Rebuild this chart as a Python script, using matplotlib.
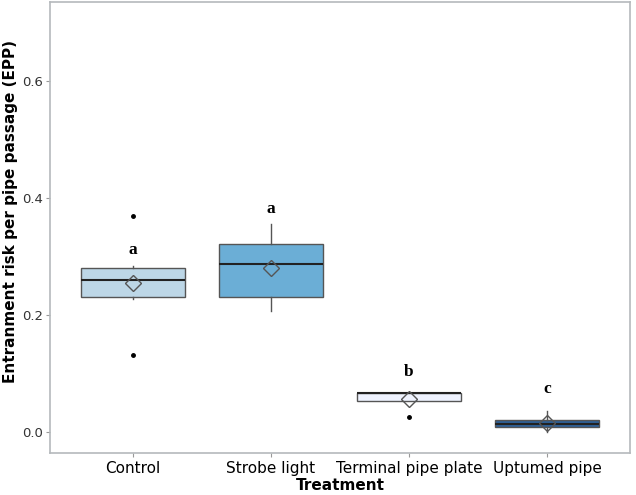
import numpy as np
import matplotlib.pyplot as plt

treatments = ['Control', 'Strobe light', 'Terminal pipe plate', 'Uptumed pipe']
q1 = [0.230, 0.231, 0.052, 0.008]
median = [0.260, 0.287, 0.066, 0.014]
q3 = [0.280, 0.321, 0.066, 0.0205]
wlo = [0.227, 0.206, 0.052, 0.000]
whi = [0.284, 0.356, 0.066, 0.036]
means = [0.254, 0.280, 0.056, 0.016]
outliers = [[0.369, 0.131], [], [0.026], []]
letters = ['a', 'a', 'b', 'c']
letter_y = [0.311, 0.381, 0.103, 0.073]
colors = ['#bdd7e7', '#6baed6', '#eff3ff', '#2e5f96']

fig = plt.figure(figsize=(6.36, 4.95), dpi=100)
ax = fig.add_axes([0.0786, 0.085, 0.912, 0.911])

stats = []
for i in range(len(treatments)):
    stats.append({'med': median[i], 'q1': q1[i], 'q3': q3[i],
                  'whislo': wlo[i], 'whishi': whi[i], 'fliers': outliers[i]})

pos = np.arange(1, len(treatments) + 1)
bp = ax.bxp(stats, positions=pos, widths=0.75, patch_artist=True, showcaps=False,
            boxprops=dict(edgecolor='#555555', linewidth=1.0),
            medianprops=dict(color='#222222', linewidth=1.5),
            whiskerprops=dict(color='#555555', linewidth=1.0),
            flierprops=dict(marker='o', markerfacecolor='black', markeredgecolor='black',
                            markersize=2.5, linestyle='none'))
for patch, c in zip(bp['boxes'], colors):
    patch.set_facecolor(c)

ax.plot(pos, means, 'D', markerfacecolor='none', markeredgecolor='#555555',
        markersize=8, markeredgewidth=1.0, zorder=5)

for x, t, y in zip(pos, letters, letter_y):
    ax.text(x, y, t, ha='center', va='center', fontsize=12.5, fontweight='bold',
            family='Liberation Serif')

ax.set_xlim(0.4, 4.6)
ax.set_ylim(-0.036, 0.735)
ax.set_yticks([0.0, 0.2, 0.4, 0.6])
ax.set_yticklabels(['0.0', '0.2', '0.4', '0.6'])
ax.set_xticks(pos)
ax.set_xticklabels(treatments)
ax.tick_params(axis='x', labelsize=11, color='#999999', length=3, pad=3)
ax.tick_params(axis='y', labelsize=9.5, labelcolor='#333333', color='#999999', length=3, pad=2)
for s in ax.spines.values():
    s.set_color('#b5b9bc')
    s.set_linewidth(1.2)

ax.set_xlabel('Treatment', fontsize=11, fontweight='bold', labelpad=1)
ax.set_ylabel('Entranment risk per pipe passage (EPP)', fontsize=11, fontweight='bold')
ax.yaxis.set_label_coords(-0.055, 0.535)

fig.savefig('out.png', dpi=100)
